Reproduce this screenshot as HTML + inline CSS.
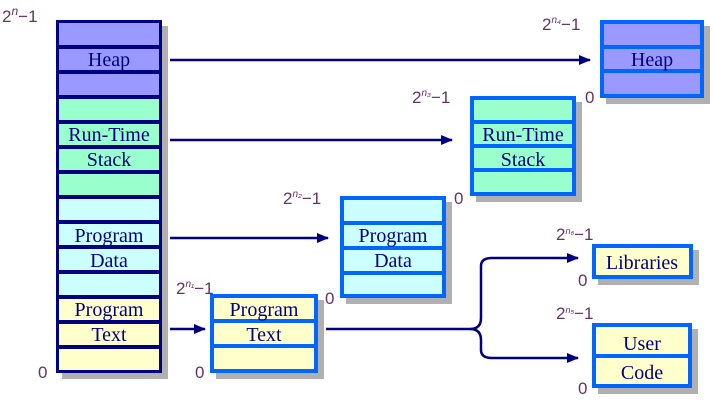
<!DOCTYPE html>
<html><head><meta charset="utf-8"><style>
html,body{margin:0;padding:0;background:#fff;width:714px;height:400px;overflow:hidden}
text{font-family:"Liberation Serif",serif;}
.l{font-family:"Liberation Sans",sans-serif;font-size:17px;fill:#663366}
.b{font-size:20px;fill:#000080;text-anchor:middle}
</style></head><body>
<svg width="714" height="400" viewBox="0 0 714 400" xmlns="http://www.w3.org/2000/svg">
<defs>
<marker id="a" markerWidth="12" markerHeight="10" refX="11" refY="5" orient="auto" markerUnits="userSpaceOnUse"><path d="M0,0 L12,5 L0,10 Z" fill="#000080"/></marker>
</defs>
<!-- main column -->
<rect x="62" y="26" width="106" height="353" fill="#b0b0b0"/>
<rect x="56" y="20" width="106" height="353" fill="#000080"/>
<g>
<rect x="59" y="23" width="100" height="22" fill="#9999ff"/>
<rect x="59" y="49" width="100" height="21" fill="#9999ff"/>
<rect x="59" y="74" width="100" height="21" fill="#9999ff"/>
<rect x="59" y="99" width="100" height="21" fill="#99ffcc"/>
<rect x="59" y="124" width="100" height="21" fill="#99ffcc"/>
<rect x="59" y="149" width="100" height="21" fill="#99ffcc"/>
<rect x="59" y="174" width="100" height="21" fill="#99ffcc"/>
<rect x="59" y="199" width="100" height="21" fill="#ccffff"/>
<rect x="59" y="224" width="100" height="21" fill="#ccffff"/>
<rect x="59" y="249" width="100" height="21" fill="#ccffff"/>
<rect x="59" y="274" width="100" height="21" fill="#ccffff"/>
<rect x="59" y="299" width="100" height="21" fill="#ffffcc"/>
<rect x="59" y="324" width="100" height="21" fill="#ffffcc"/>
<rect x="59" y="349" width="100" height="21" fill="#ffffcc"/>
</g>
<text class="b" x="109" y="66">Heap</text>
<text class="b" x="109" y="141">Run-Time</text>
<text class="b" x="109" y="166">Stack</text>
<text class="b" x="109" y="242">Program</text>
<text class="b" x="109" y="267">Data</text>
<text class="b" x="109" y="316">Program</text>
<text class="b" x="109" y="341">Text</text>
<text class="l" x="2" y="22">2<tspan dy="-7" font-size="12" font-style="italic">n</tspan><tspan dy="7">−1</tspan></text>
<text class="l" x="38" y="378">0</text>

<!-- arrows -->
<g stroke="#000080" stroke-width="2.5" fill="none">
<line x1="170" y1="60" x2="590" y2="60" marker-end="url(#a)"/>
<line x1="170" y1="140" x2="452" y2="140" marker-end="url(#a)"/>
<line x1="170" y1="238" x2="328" y2="238" marker-end="url(#a)"/>
<line x1="170" y1="329" x2="205" y2="329" marker-end="url(#a)"/>
<path d="M326,329 H470 Q481,329 481,318 V266 Q481,258 492,258 H578" marker-end="url(#a)"/>
<path d="M470,329 Q481,329 481,340 V350 Q481,358 492,358 H578" marker-end="url(#a)"/>
</g>

<!-- Heap box -->
<rect x="606" y="26" width="104" height="78" fill="#b0b0b0"/>
<rect x="600" y="20" width="104" height="78" fill="#0066ff"/>
<rect x="604" y="24" width="96" height="21" fill="#9999ff"/>
<rect x="604" y="49" width="96" height="20" fill="#9999ff"/>
<rect x="604" y="73" width="96" height="21" fill="#9999ff"/>
<text class="b" x="652" y="66">Heap</text>
<text class="l" x="542" y="30">2<tspan dy="-7" font-size="10" font-style="italic">n₄</tspan><tspan dy="7">−1</tspan></text>
<text class="l" x="585" y="103">0</text>

<!-- Run-time box -->
<rect x="476" y="102" width="106" height="100" fill="#b0b0b0"/>
<rect x="470" y="96" width="106" height="100" fill="#0066ff"/>
<rect x="474" y="100" width="98" height="20" fill="#99ffcc"/>
<rect x="474" y="124" width="98" height="20" fill="#99ffcc"/>
<rect x="474" y="148" width="98" height="20" fill="#99ffcc"/>
<rect x="474" y="172" width="98" height="20" fill="#99ffcc"/>
<text class="b" x="523" y="141">Run-Time</text>
<text class="b" x="523" y="166">Stack</text>
<text class="l" x="412" y="103">2<tspan dy="-7" font-size="10" font-style="italic">n₃</tspan><tspan dy="7">−1</tspan></text>
<text class="l" x="454" y="204">0</text>

<!-- Data box -->
<rect x="346" y="202" width="106" height="102" fill="#b0b0b0"/>
<rect x="340" y="196" width="106" height="102" fill="#0066ff"/>
<rect x="344" y="200" width="98" height="21" fill="#ccffff"/>
<rect x="344" y="225" width="98" height="21" fill="#ccffff"/>
<rect x="344" y="250" width="98" height="21" fill="#ccffff"/>
<rect x="344" y="275" width="98" height="19" fill="#ccffff"/>
<text class="b" x="393" y="242">Program</text>
<text class="b" x="393" y="267">Data</text>
<text class="l" x="283" y="204">2<tspan dy="-7" font-size="10" font-style="italic">n₂</tspan><tspan dy="7">−1</tspan></text>
<text class="l" x="325" y="304">0</text>

<!-- Text box -->
<rect x="216" y="300" width="108" height="79" fill="#b0b0b0"/>
<rect x="210" y="294" width="108" height="79" fill="#0066ff"/>
<rect x="214" y="298" width="100" height="21" fill="#ffffcc"/>
<rect x="214" y="323" width="100" height="21" fill="#ffffcc"/>
<rect x="214" y="348" width="100" height="21" fill="#ffffcc"/>
<text class="b" x="264" y="316">Program</text>
<text class="b" x="264" y="341">Text</text>
<text class="l" x="176" y="294">2<tspan dy="-7" font-size="10" font-style="italic">n₁</tspan><tspan dy="7">−1</tspan></text>
<text class="l" x="195" y="378">0</text>

<!-- Libraries -->
<rect x="598" y="250" width="101" height="35" fill="#b0b0b0"/>
<rect x="592" y="244" width="101" height="35" fill="#0066ff"/>
<rect x="596" y="248" width="93" height="27" fill="#ffffcc"/>
<text class="b" x="642" y="269">Libraries</text>
<text class="l" x="556" y="240" font-size="15">2<tspan dy="-6" font-size="9" font-style="italic">n₆</tspan><tspan dy="6">−1</tspan></text>
<text class="l" x="578" y="286" font-size="15">0</text>

<!-- User code -->
<rect x="598" y="329" width="100" height="65" fill="#b0b0b0"/>
<rect x="592" y="323" width="100" height="65" fill="#0066ff"/>
<rect x="596" y="327" width="92" height="27" fill="#ffffcc"/>
<rect x="596" y="358" width="92" height="26" fill="#ffffcc"/>
<text class="b" x="642" y="350">User</text>
<text class="b" x="642" y="379">Code</text>
<text class="l" x="556" y="319" font-size="15">2<tspan dy="-6" font-size="9" font-style="italic">n₅</tspan><tspan dy="6">−1</tspan></text>
<text class="l" x="578" y="394" font-size="15">0</text>
</svg>
</body></html>
